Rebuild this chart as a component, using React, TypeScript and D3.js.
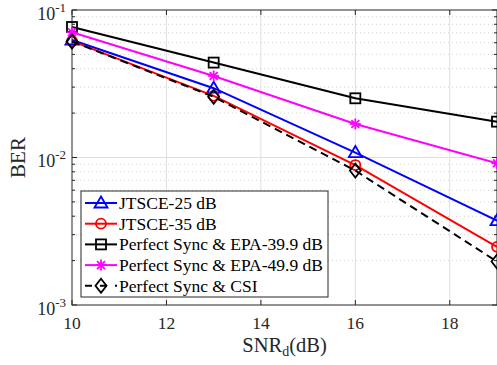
import React from "react";
import * as d3 from "d3";

const snr = [10, 13, 16, 19];
const jtsce25 = [0.0626, 0.0295, 0.0108, 0.00373];
const jtsce35 = [0.0615, 0.0262, 0.00889, 0.00248];
const epa399 = [0.0767, 0.044, 0.0252, 0.0175];
const epa499 = [0.0706, 0.0357, 0.01687, 0.00914];
const csi = [0.0612, 0.0258, 0.00815, 0.00197];

const seriesNames = [
  "JTSCE-25 dB",
  "JTSCE-35 dB",
  "Perfect Sync & EPA-39.9 dB",
  "Perfect Sync & EPA-49.9 dB",
  "Perfect Sync & CSI",
];
const xTicks = [10, 12, 14, 16, 18];
const yMajor = [-1, -2, -3];

const W = 497, H = 365;
const L = 72, R = 497, T = 10, B = 305;
const FONT = "'Liberation Serif', 'Times New Roman', Times, serif";
const AX = "#262626";

type S = { name: string; vals: number[]; color: string; marker: string; dash?: string };

const series: S[] = [
  { name: seriesNames[0], vals: jtsce25, color: "#0000ff", marker: "tri" },
  { name: seriesNames[1], vals: jtsce35, color: "#ff0000", marker: "circ" },
  { name: seriesNames[2], vals: epa399, color: "#000000", marker: "sq" },
  { name: seriesNames[3], vals: epa499, color: "#ff00ff", marker: "star" },
  { name: seriesNames[4], vals: csi, color: "#000000", marker: "dia", dash: "8,5" },
];

function Marker({ type, x, y, color }: { type: string; x: number; y: number; color: string }) {
  const sw = 1.8;
  if (type === "tri")
    return <path d={`M${x},${y - 6.5}L${x + 6.5},${y + 4.5}L${x - 6.5},${y + 4.5}Z`} fill="none" stroke={color} strokeWidth={sw} />;
  if (type === "circ") return <circle cx={x} cy={y} r={5} fill="none" stroke={color} strokeWidth={sw} />;
  if (type === "sq") return <rect x={x - 5} y={y - 5} width={10} height={10} fill="none" stroke={color} strokeWidth={sw} />;
  if (type === "dia")
    return <path d={`M${x},${y - 7}L${x + 5.5},${y}L${x},${y + 7}L${x - 5.5},${y}Z`} fill="none" stroke={color} strokeWidth={sw} />;
  const r = 5.5, d = r * 0.72;
  return (
    <g stroke={color} strokeWidth={sw}>
      <line x1={x - r} y1={y} x2={x + r} y2={y} />
      <line x1={x} y1={y - r} x2={x} y2={y + r} />
      <line x1={x - d} y1={y - d} x2={x + d} y2={y + d} />
      <line x1={x - d} y1={y + d} x2={x + d} y2={y - d} />
    </g>
  );
}

export default function App() {
  const x = d3.scaleLinear().domain([10, 19]).range([L, R]);
  const y = d3.scaleLog().domain([1e-3, 1e-1]).range([B, T]);
  const line = d3.line<number>().x((_, i) => x(snr[i])).y((v) => y(v));

  const minor: number[] = [];
  for (const e of [-3, -2]) for (let m = 2; m <= 9; m++) minor.push(m * Math.pow(10, e));

  const legX = 81, legY = 191, legW = 247, legH = 106, rowH = 20.7;

  return (
    <svg width={W} height={H} style={{ position: "absolute", left: 0, top: 0, background: "#fff", fontFamily: FONT }}>
      <rect x={0} y={0} width={W} height={H} fill="#fff" />
      {/* grid */}
      {xTicks.slice(1).map((t) => (
        <line key={"gx" + t} x1={x(t)} x2={x(t)} y1={T} y2={B} stroke="#dfdfdf" strokeWidth={1} />
      ))}
      {minor.map((v, i) => (
        <line key={"gm" + i} x1={L} x2={R} y1={y(v)} y2={y(v)} stroke="#d0d0d0" strokeWidth={1} strokeDasharray="1,3" />
      ))}
      <line x1={L} x2={R} y1={y(1e-2)} y2={y(1e-2)} stroke="#dfdfdf" strokeWidth={1} />
      {/* axes box */}
      <rect x={L} y={T} width={R - L} height={B - T} fill="none" stroke={AX} strokeWidth={1} />
      {xTicks.map((t) => (
        <g key={"xt" + t}>
          <line x1={x(t)} x2={x(t)} y1={B} y2={B - 5} stroke={AX} />
          <line x1={x(t)} x2={x(t)} y1={T} y2={T + 5} stroke={AX} />
          <text x={x(t)} y={329} fontSize={17.5} textAnchor="middle" fill={AX}>{t}</text>
        </g>
      ))}
      {yMajor.map((e) => (
        <g key={"ym" + e}>
          <line x1={L} x2={L + 5} y1={y(Math.pow(10, e))} y2={y(Math.pow(10, e))} stroke={AX} />
          <line x1={R} x2={R - 5} y1={y(Math.pow(10, e))} y2={y(Math.pow(10, e))} stroke={AX} />
          <text x={66} y={y(Math.pow(10, e)) + 9.5} fontSize={18} textAnchor="end" fill={AX}>
            10<tspan fontSize={13} dy={-8}>{e}</tspan>
          </text>
        </g>
      ))}
      {minor.map((v, i) => (
        <g key={"ymn" + i}>
          <line x1={L} x2={L + 3} y1={y(v)} y2={y(v)} stroke={AX} />
          <line x1={R} x2={R - 3} y1={y(v)} y2={y(v)} stroke={AX} />
        </g>
      ))}
      {/* series */}
      {series.map((s, k) => (
        <g key={"s" + k}>
          <path d={line(s.vals) || ""} fill="none" stroke={s.color} strokeWidth={2} strokeDasharray={s.dash} />
          {s.vals.map((v, i) => (
            <Marker key={i} type={s.marker} x={x(snr[i])} y={y(v)} color={s.color} />
          ))}
        </g>
      ))}
      {/* labels */}
      <text transform={`translate(25,${(T + B) / 2}) rotate(-90)`} fontSize={21} textAnchor="middle" fill={AX}>BER</text>
      <text x={(L + R) / 2} y={352} fontSize={20.5} textAnchor="middle" fill={AX}>
        SNR<tspan fontSize={14} dy={4}>d</tspan><tspan dy={-4}>(dB)</tspan>
      </text>
      {/* legend */}
      <rect x={legX} y={legY} width={legW} height={legH} fill="#fff" stroke={AX} strokeWidth={1} />
      {series.map((s, k) => {
        const cy = legY + 12 + k * rowH;
        return (
          <g key={"l" + k}>
            <line x1={85} x2={117} y1={cy} y2={cy} stroke={s.color} strokeWidth={2} strokeDasharray={s.dash ? "7,8" : undefined} />
            <Marker type={s.marker} x={101} y={cy} color={s.color} />
            <text x={119} y={cy + 6} fontSize={17.5} fill="#000">{s.name}</text>
          </g>
        );
      })}
    </svg>
  );
}
